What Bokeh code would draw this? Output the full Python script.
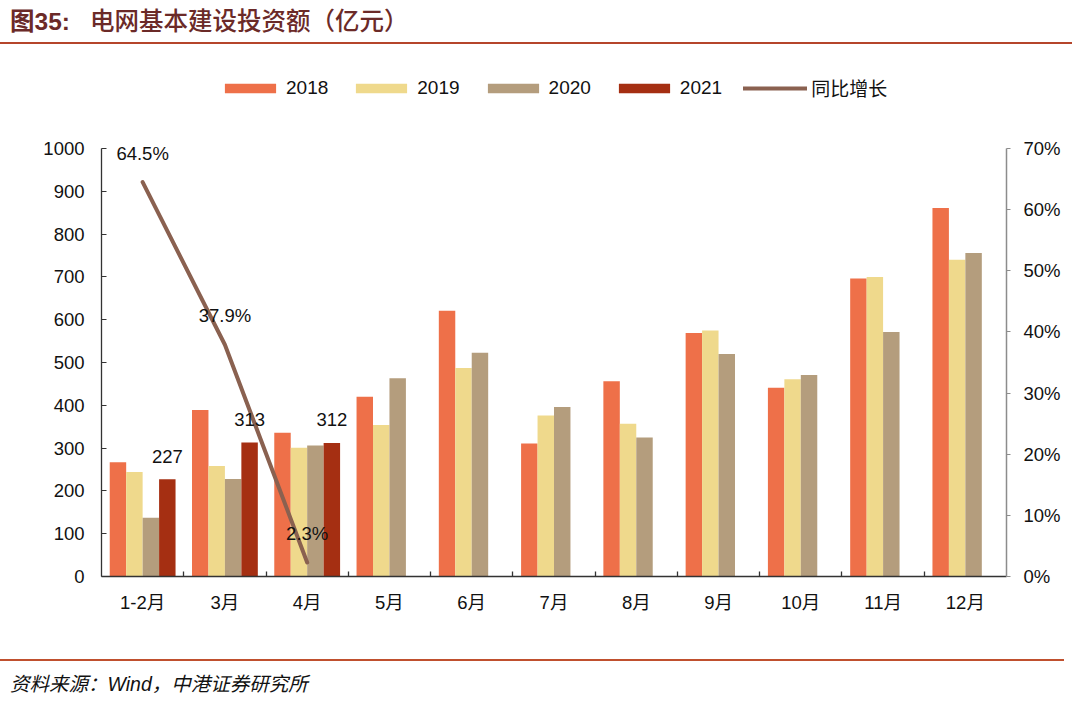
from bokeh.plotting import figure
from bokeh.models import (Range1d, LinearAxis, FixedTicker, PrintfTickFormatter, ColumnDataSource,
                          LabelSet, Legend, LegendItem, Div)
from bokeh.layouts import column
from bokeh.transform import dodge
from bokeh.core.properties import value
from bokeh.embed import file_html
from bokeh.resources import INLINE

# ---------------- data ----------------
months = ["1-2月", "3月", "4月", "5月", "6月", "7月", "8月", "9月", "10月", "11月", "12月"]
v2018 = [267, 389, 336, 420, 621, 311, 456, 569, 441, 696, 861]
v2019 = [244, 258, 301, 354, 487, 376, 357, 575, 461, 700, 740]
v2020 = [137, 228, 306, 463, 523, 396, 325, 520, 471, 571, 756]
months_2021 = ["1-2月", "3月", "4月"]
v2021 = [227, 313, 312]
yoy_2021 = [64.5, 37.9, 2.3]
left_ticks = [0, 100, 200, 300, 400, 500, 600, 700, 800, 900, 1000]
right_ticks = [0, 10, 20, 30, 40, 50, 60, 70]

title_prefix = "图35:"
title_text = "电网基本建设投资额（亿元）"
source_text = "资料来源：Wind，中港证券研究所"

C2018 = "#EE7049"
C2019 = "#EFD98C"
C2020 = "#B49D7D"
C2021 = "#A52F12"
CLINE = "#8A6150"

NUM_FONT = "Liberation Sans, Noto Sans CJK SC"
FS = "18.5px"

# ---------------- layout (pixels) ----------------
W = 1072
AXIS_H = 428          # pixel height of the 0..1000 axis
EXTRA_TOP = 88        # free frame space above the axis top, used by the legend and labels
FRAME_H = AXIS_H + EXTRA_TOP
LEFT_MAX = 1000
RIGHT_MAX = 70

pos = {m: i + 1 for i, m in enumerate(months)}
src = ColumnDataSource(dict(x=[pos[m] for m in months], m=months, a=v2018, b=v2019, c=v2020))
src21 = ColumnDataSource(dict(x=[pos[m] for m in months_2021], v=v2021,
                              t=[str(v) for v in v2021], g=yoy_2021,
                              gt=["%.1f%%" % g for g in yoy_2021]))

p = figure(width=W, height=16 + FRAME_H + 74,
           x_range=Range1d(0.5, len(months) + 0.5),
           y_range=Range1d(0, LEFT_MAX * FRAME_H / AXIS_H),
           output_backend="svg", toolbar_location=None,
           min_border_left=101, min_border_right=66, min_border_top=16, min_border_bottom=74)
p.margin = 0
p.extra_y_ranges = {"pct": Range1d(0, RIGHT_MAX * FRAME_H / AXIS_H)}
p.outline_line_color = None
p.xgrid.visible = False
p.ygrid.visible = False
p.background_fill_color = "white"
p.border_fill_color = "white"

bw = 0.2
r18 = p.vbar(x=dodge("x", -0.3), top="a", width=bw, source=src, fill_color=C2018, line_color=None)
r19 = p.vbar(x=dodge("x", -0.1), top="b", width=bw, source=src, fill_color=C2019, line_color=None)
r20 = p.vbar(x=dodge("x", 0.1), top="c", width=bw, source=src, fill_color=C2020, line_color=None)
r21 = p.vbar(x=dodge("x", 0.3), top="v", width=bw, source=src21, fill_color=C2021, line_color=None)
rl = p.line(x="x", y="g", source=src21, y_range_name="pct", line_color=CLINE, line_width=4,
            line_cap="round", line_join="round")

p.add_layout(LabelSet(x=dodge("x", 0.3), y="v", text="t", source=src21, y_offset=23,
                      text_align="center", text_baseline="middle", text_font=value("Liberation Sans"),
                      text_font_size=FS, text_color="#111111"))
p.add_layout(LabelSet(x="x", y="g", text="gt", source=src21, y_range_name="pct", y_offset=29,
                      text_align="center", text_baseline="middle", text_font=value("Liberation Sans"),
                      text_font_size=FS, text_color="#111111"))

# x axis
xa = p.xaxis[0]
xa.ticker = FixedTicker(ticks=[pos[m] for m in months],
                        minor_ticks=[pos[m] + 0.5 for m in months[:-1]])
xa.major_label_overrides = {pos[m]: m for m in months}
xa.major_tick_line_color = None
xa.major_tick_out = 0
xa.major_tick_in = 0
xa.minor_tick_in = 5
xa.minor_tick_out = 0
xa.minor_tick_line_color = "#333333"
xa.minor_tick_line_width = 1.3
xa.axis_line_color = "#333333"
xa.axis_line_width = 1.5
xa.major_label_standoff = 15
xa.major_label_text_font = NUM_FONT
xa.major_label_text_font_size = FS
xa.major_label_text_color = "#111111"

# left axis
ya = p.yaxis[0]
ya.ticker = FixedTicker(ticks=left_ticks)
ya.bounds = (0, LEFT_MAX)
ya.major_tick_in = 5
ya.major_tick_out = 0
ya.minor_tick_line_color = None
ya.axis_line_color = "#333333"
ya.axis_line_width = 1.3
ya.major_tick_line_color = "#333333"
ya.major_label_standoff = 17
ya.major_label_text_font = NUM_FONT
ya.major_label_text_font_size = FS
ya.major_label_text_color = "#111111"

# right axis
ra = LinearAxis(y_range_name="pct", ticker=FixedTicker(ticks=right_ticks),
                formatter=PrintfTickFormatter(format="%d%%"), bounds=(0, RIGHT_MAX))
ra.major_tick_in = 0
ra.major_tick_out = 4
ra.minor_tick_line_color = None
ra.axis_line_color = "#8C8C8C"
ra.axis_line_width = 1.5
ra.major_tick_line_color = "#8C8C8C"
ra.major_label_standoff = 13
ra.major_label_text_font = NUM_FONT
ra.major_label_text_font_size = FS
ra.major_label_text_color = "#111111"
p.add_layout(ra, "right")

legend = Legend(items=[LegendItem(label="2018", renderers=[r18]),
                       LegendItem(label="2019", renderers=[r19]),
                       LegendItem(label="2020", renderers=[r20]),
                       LegendItem(label="2021", renderers=[r21]),
                       LegendItem(label="同比增长", renderers=[rl])],
                orientation="horizontal", location=(117, 475),
                glyph_width=64, glyph_height=12, label_height=12, label_standoff=4, spacing=21,
                padding=0, margin=0, border_line_color=None, background_fill_alpha=0,
                label_text_font=NUM_FONT, label_text_font_size="19px", label_text_color="#111111")
p.add_layout(legend, "center")

title_html = ('<div style="width:1062px;height:24px;line-height:24px;padding-top:8px;padding-bottom:10px;'
              'border-bottom:2px solid #B5452B;white-space:nowrap;color:#6B2A28;'
              'font-family:\'Noto Sans CJK SC\';font-size:24.5px;font-weight:500;padding-left:10px;'
              'box-sizing:content-box;">'
              '<span style="font-family:\'Liberation Sans\',\'Noto Sans CJK SC\';font-weight:bold;'
              'display:inline-block;width:80px;">'
              + title_prefix + '</span>' + title_text + '</div>')
title_div = Div(text=title_html, width=W, height=44, margin=0)

foot_html = ('<div style="width:1064px;margin-top:9px;border-top:2px solid #C0502E;padding-top:12px;'
             'line-height:22px;height:22px;white-space:nowrap;color:#111111;font-style:italic;'
             'font-family:\'Liberation Sans\',\'Noto Sans CJK SC\';font-size:19.5px;padding-left:10px;">'
             + source_text + '</div>')
foot_div = Div(text=foot_html, width=W, height=52, margin=0)

layout = column(title_div, p, foot_div, spacing=0, margin=0)

open("out.html", "w").write(file_html(layout, INLINE))
